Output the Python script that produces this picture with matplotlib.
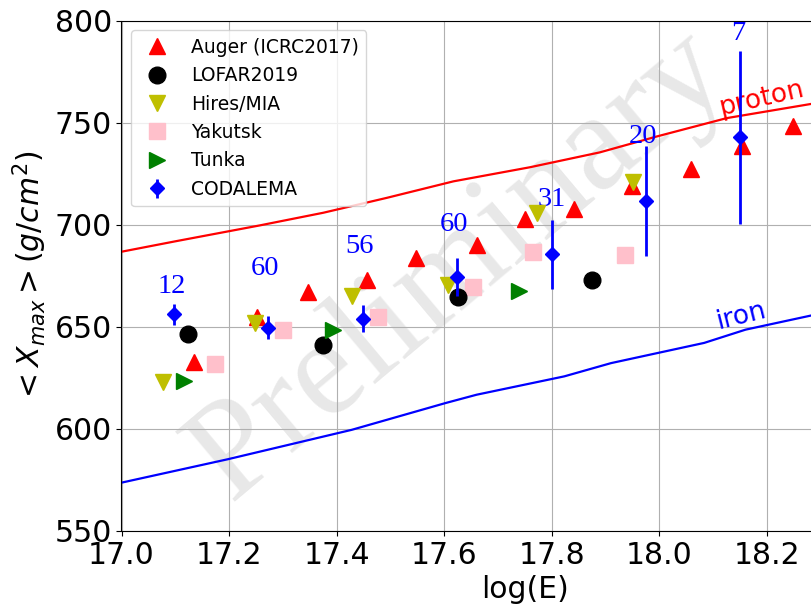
'''Xmax vs energy, comparison of radio and other experiments'''

import numpy as np
import matplotlib
matplotlib.use('Agg')
import matplotlib.pyplot as plt

#----------------- Data ------------
auger_x = [17.135, 17.252, 17.347, 17.457, 17.547, 17.660, 17.750, 17.841, 17.949, 18.059, 18.153, 18.249]
auger_y = [632.6, 654.8, 667.1, 672.9, 684.0, 690.0, 703.0, 707.9, 719.0, 727.5, 738.5, 748.3]

lofar_x = [17.124, 17.374, 17.625, 17.874]
lofar_y = [646.5, 641.4, 664.7, 672.9]

hires_x = [17.078, 17.248, 17.429, 17.607, 17.772, 17.950]
hires_y = [622.8, 652.2, 665.2, 670.4, 706.0, 720.9]

yakutsk_x = [17.174, 17.300, 17.477, 17.653, 17.764, 17.935]
yakutsk_y = [632.0, 648.4, 654.9, 669.6, 686.7, 685.2]

tunka_x = [17.117, 17.394, 17.738]
tunka_y = [623.6, 648.4, 667.6]

codalema_x = [17.098, 17.273, 17.449, 17.624, 17.800, 17.975, 18.150]
codalema_y = [656.2, 649.7, 654.1, 674.5, 685.6, 711.6, 742.9]
codalema_err = [5.0, 5.5, 6.6, 9.4, 16.8, 27.0, 42.6]
# number of events per bin, written above each point
codalema_n = ['12', '60', '56', '60', '31', '20', '7']
codalema_n_x = [17.093, 17.267, 17.443, 17.618, 17.800, 17.969, 18.147]
codalema_n_y = [670.0, 678.6, 689.6, 700.2, 712.5, 743.4, 794.0]

proton_x = [17.0, 17.1, 17.257, 17.375, 17.493, 17.617, 17.759, 17.889, 17.995, 18.125, 18.283, 18.4]
proton_y = [686.9, 692.0, 699.8, 706.0, 713.3, 721.4, 728.3, 735.6, 743.4, 752.4, 759.4, 764.5]

iron_x = [17.0, 17.198, 17.428, 17.602, 17.66, 17.823, 17.91, 18.083, 18.16, 18.283, 18.4]
iron_y = [573.7, 585.2, 599.6, 612.7, 616.8, 625.8, 632.3, 642.2, 648.7, 655.7, 661.0]


figure = plt.figure(figsize=(8.12, 6.13), dpi=100)
# axes runs past the right border of the picture (it was cropped)
ax = figure.add_axes([121.5/812, 1-531/613, 807/812, 510/613])

ms = 12
ax.plot(auger_x, auger_y, 'r^', ms=ms, label='Auger (ICRC2017)', zorder=4)
ax.plot(lofar_x, lofar_y, 'ko', ms=ms, label='LOFAR2019', zorder=4)
ax.plot(hires_x, hires_y, 'yv', ms=ms, label='Hires/MIA', zorder=4)
ax.plot(yakutsk_x, yakutsk_y, 's', color='pink', ms=ms, label='Yakutsk', zorder=3)
ax.plot(tunka_x, tunka_y, 'g>', ms=ms, label='Tunka', zorder=4)
ax.errorbar(codalema_x, codalema_y, yerr=codalema_err, fmt='bD', ms=7,
            elinewidth=2, capsize=0, label='CODALEMA', zorder=5)

for xx, yy, nn in zip(codalema_n_x, codalema_n_y, codalema_n):
    ax.text(xx, yy, nn, color='b', fontsize=20.5, family='Liberation Serif',
            ha='center', va='center')

ax.plot(proton_x, proton_y, 'r-', lw=1.6)
ax.plot(iron_x, iron_y, 'b-', lw=1.6)
ax.text(18.19, 762.2, 'proton', color='r', fontsize=19, rotation=13,
        ha='center', va='center')
ax.text(18.153, 655.4, 'iron', color='b', fontsize=19, rotation=14,
        ha='center', va='center')

# watermark
ax.text(17.63, 680, 'Preliminary', color='gray', alpha=0.18, fontsize=100,
        family='Liberation Serif', rotation=40, ha='center', va='center',
        zorder=1)

ax.set_xlim(17.0, 18.5)
ax.set_ylim(550, 800)
ax.set_xticks(np.arange(17.0, 18.5, 0.2))
ax.grid(True)
ax.tick_params(labelsize=21.5)
ax.set_xlabel('log(E)', fontsize=21.5)
ax.set_ylabel(r'$< X_{max} > (g/cm^2)$', fontsize=21.5)

ax.legend(loc='upper left', fontsize=13.5, numpoints=1)

#----------------- Save plot ------------
figure.savefig('out.png', dpi=100)
